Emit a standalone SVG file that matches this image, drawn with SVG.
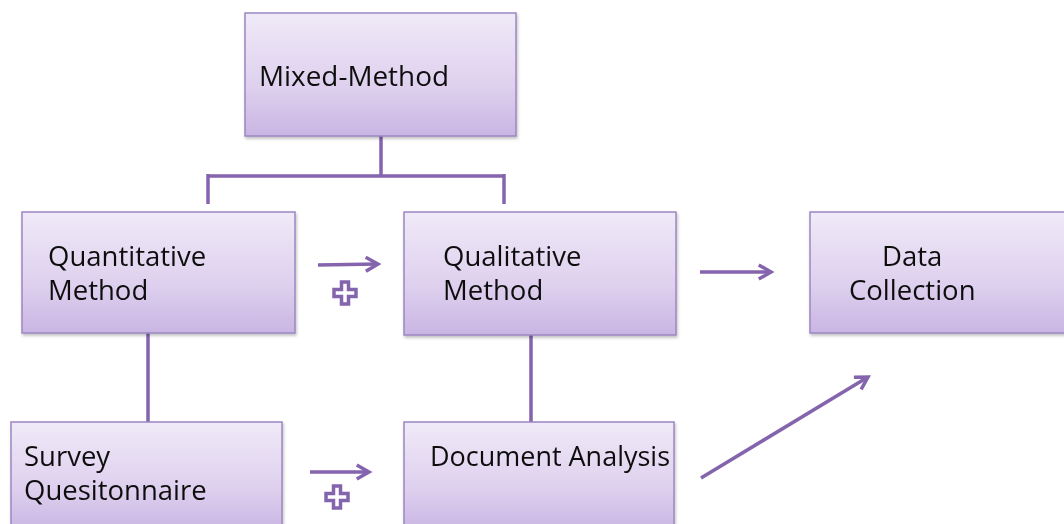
<svg xmlns="http://www.w3.org/2000/svg" width="1064" height="524" viewBox="0 0 1064 524">
<style>
.box{fill:url(#g);stroke:#9b87c2;stroke-width:1.5}
.t{font-family:"Open Sans","Noto Sans",sans-serif;font-size:27.5px;fill:#111}
.c{fill:none;stroke:#8464ad;stroke-width:3.5}
.a{fill:none;stroke:#8464ad;stroke-width:3.5;marker-end:url(#ar)}
.p{fill:#fff;stroke:#8464ad;stroke-width:3.5}
</style>
<defs>
<linearGradient id="g" x1="0" y1="0" x2="0" y2="1">
<stop offset="0" stop-color="#f0eaf8"/>
<stop offset="0.6" stop-color="#ded0ee"/>
<stop offset="1" stop-color="#c9b5e3"/>
</linearGradient>
<filter id="sh" x="-5%" y="-5%" width="110%" height="115%">
<feDropShadow dx="1" dy="2" stdDeviation="1.5" flood-color="#000" flood-opacity="0.25"/>
</filter>
<marker id="ar" viewBox="0 0 10 10" refX="8" refY="5" markerWidth="5" markerHeight="5" orient="auto" markerUnits="strokeWidth">
<path d="M1,1 L8,5 L1,9" fill="none" stroke="#8464ad" stroke-width="2"/>
</marker>
<path id="plus" d="M-3.5,-11 H3.5 V-3.5 H11 V3.5 H3.5 V11 H-3.5 V3.5 H-11 V-3.5 H-3.5 Z"/>
</defs>
<g id="connectors">
<path class="c" d="M381,136 V176 M208,176 H504 M208,174 V204 M504,174 V204"/>
<path class="c" d="M148,333 V422 M531,335 V422"/>
<path class="a" d="M318,265 L378,264"/>
<path class="a" d="M700,272 L771,272"/>
<path class="a" d="M310,472 L369,472"/>
<path class="a" d="M701,478 L868,377"/>
<use href="#plus" class="p" x="345" y="293"/>
<use href="#plus" class="p" x="337" y="497"/>
</g>
<g id="mixed" filter="url(#sh)">
<rect class="box" x="245" y="13" width="271" height="123"/>
<text class="t" x="259" y="86" textLength="190" lengthAdjust="spacingAndGlyphs">Mixed-Method</text>
</g>
<g id="quant" filter="url(#sh)">
<rect class="box" x="22" y="212" width="273" height="121"/>
<text class="t" x="48" y="266">Quantitative</text>
<text class="t" x="48" y="300">Method</text>
</g>
<g id="qual" filter="url(#sh)">
<rect class="box" x="404" y="212" width="272" height="123"/>
<text class="t" x="443" y="266">Qualitative</text>
<text class="t" x="443" y="300">Method</text>
</g>
<g id="data" filter="url(#sh)">
<rect class="box" x="810" y="212" width="260" height="121"/>
<text class="t" x="882" y="266">Data</text>
<text class="t" x="849" y="300">Collection</text>
</g>
<g id="survey" filter="url(#sh)">
<rect class="box" x="11" y="422" width="271" height="110"/>
<text class="t" x="24" y="466">Survey</text>
<text class="t" x="24" y="500">Quesitonnaire</text>
</g>
<g id="doc" filter="url(#sh)">
<rect class="box" x="404" y="422" width="270" height="110"/>
<text class="t" x="430" y="466" textLength="240" lengthAdjust="spacingAndGlyphs">Document Analysis</text>
</g>
</svg>
